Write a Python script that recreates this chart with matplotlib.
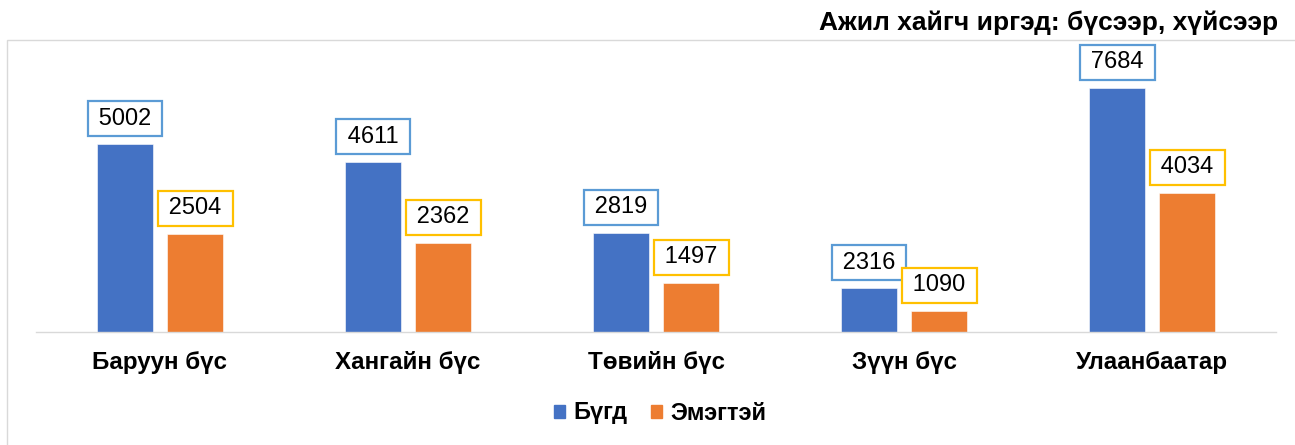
import numpy as np
import matplotlib
matplotlib.use("Agg")
import matplotlib.pyplot as plt
from matplotlib.patches import Rectangle, Patch

plt.rcParams["font.family"] = ["Liberation Sans", "DejaVu Sans"]

# данные
regions = ["Баруун бүс", "Хангайн бүс", "Төвийн бүс", "Зүүн бүс", "Улаанбаатар"]
series_names = ["Бүгд", "Эмэгтэй"]
# printed labels
label_total = [5002, 4611, 2819, 2316, 7684]
label_female = [2504, 2362, 1497, 1090, 4034]
# bar heights as drawn in the picture (they do not follow the labels exactly)
bar_total = [5002, 4522, 2646, 1165, 6510]
bar_female = [2612, 2380, 1314, 560, 3712]

blue = "#4472C4"
orange = "#ED7D31"
W, H = 1295, 445

fig = plt.figure(figsize=(W / 100, H / 100), dpi=100)
ax = fig.add_axes([36 / W, 113 / H, 1240 / W, 292 / H])

x = np.arange(len(regions))
bw = 0.226
ax.bar(x - 0.141, bar_total, bw, color=blue, edgecolor="white", linewidth=0.4, zorder=2)
ax.bar(x + 0.143, bar_female, bw, color=orange, edgecolor="white", linewidth=0.4, zorder=2)

def add_labels(xs, heights, labels, edge):
    for xi, h, lab in zip(xs, heights, labels):
        ax.annotate(f"\u2009{lab}\u2009", (xi, h), xytext=(0, 18.4), textcoords="offset points",
                    ha="center", va="center", fontsize=17, color="black",
                    bbox=dict(boxstyle="square,pad=0.27", fc="white", ec=edge, lw=1.6),
                    zorder=3)

add_labels(x - 0.141, bar_total, label_total, "#5B9BD5")
add_labels(x + 0.143, bar_female, label_female, "#FFC000")

ax.set_xlim(-0.5, len(regions) - 0.5)
ax.set_ylim(0, 7781)
ax.set_xticks(x)
ax.set_xticklabels(regions, fontsize=17.4, fontweight="bold")
ax.tick_params(axis="x", length=0, pad=14)
ax.set_yticks([])
for s in ["top", "left", "right"]:
    ax.spines[s].set_visible(False)
ax.spines["bottom"].set_color("#D9D9D9")
ax.spines["bottom"].set_linewidth(1)
ax.patch.set_alpha(0)

# outer frame (only top and left edges show)
fig.patches.append(Rectangle((7 / W, -0.1), 1.2, 1.1 - 40 / H, transform=fig.transFigure,
                             fill=False, ec="#D9D9D9", lw=1, zorder=0))

fig.text(1278 / W, 1 - 23 / H, "Ажил хайгч иргэд: бүсээр, хүйсээр",
         ha="right", va="center", fontsize=19, fontweight="bold")

handles = [Patch(color=blue), Patch(color=orange)]
fig.legend(handles, series_names, loc="center", bbox_to_anchor=(660 / W, 1 - 413 / H),
           ncol=2, frameon=False, prop={"size": 17, "weight": "bold"},
           handlelength=0.48, handleheight=0.48, handletextpad=0.35, columnspacing=1.0)

fig.savefig("out.png", dpi=100)
